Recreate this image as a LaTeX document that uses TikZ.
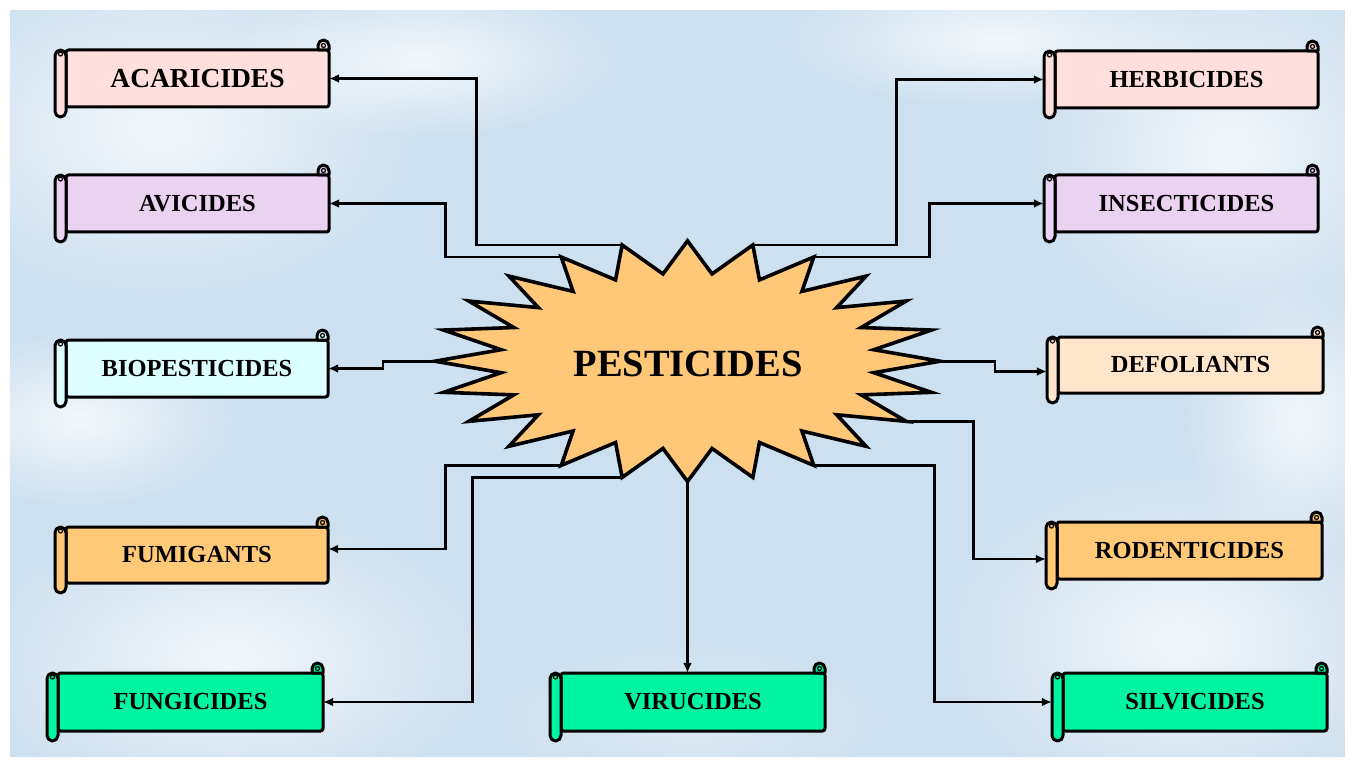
\documentclass[tikz,border=0pt]{standalone}
\usepackage{fontspec}
\setmainfont{Liberation Serif}
\usetikzlibrary{arrows.meta,fadings}
\definecolor{sky}{HTML}{CDE0EF}
\definecolor{cpink}{HTML}{FFDEDE}
\definecolor{clav}{HTML}{EAD2F1}
\definecolor{ccyan}{HTML}{DDFFFF}
\definecolor{cpeach}{HTML}{FFE5C9}
\definecolor{corange}{HTML}{FFC978}
\definecolor{cgreen}{HTML}{00F5A3}
\definecolor{starfill}{HTML}{FFC878}
\tikzfading[name=cloudfade, inner color=transparent!0, outer color=transparent!100]
\tikzset{
  scrollline/.style={line width=3pt, draw=black, line join=round},
  lbl/.style={inner sep=0pt, text=black},
  conn/.style={line width=2.8pt, draw=black, -{Latex[length=10pt,width=9pt]}},
  cloud/.style={white, path fading=cloudfade, opacity=0.75},
}
\newcommand{\scrollbox}[8]{%
  \filldraw[scrollline, fill=#6, rounded corners=2.5pt] (#2+11,#3) rectangle (#4,#5);
  \filldraw[scrollline, fill=#6] (#4-11,#3) -- (#4-11,#3-4.5) arc[start angle=180, end angle=0, radius=5.5pt] -- (#4,#3) -- cycle;
  \draw[line width=1.2pt] (#4-5.5,#3-4.5) circle[radius=2pt];
  \filldraw[scrollline, fill=#6, rounded corners=5.5pt] (#2,#3) rectangle (#2+11,#5+10);
  \draw[line width=1.2pt] (#2+5.5,#3+4) circle[radius=2pt];
  \node[lbl, font=\fontsize{#7}{#7}\selectfont\bfseries, minimum width={(#4-#2)*1pt}, minimum height={(#5-#3)*1pt}] (#1) at ({(#2+#4)/2},{(#3+#5)/2}) {\hspace*{11pt}#8};
}
\begin{document}
\begin{tikzpicture}[x=1pt,y=-1pt]
\useasboundingbox (0,0) rectangle (1352,762);
\fill[white] (0,0) rectangle (1352,762);
\fill[sky] (10,10) rectangle (1345,757);
\begin{scope}
\clip (10,10) rectangle (1345,757);
\fill[cloud] (160,130) ellipse (260 and 170);
\fill[cloud] (420,60) ellipse (200 and 80);
\fill[cloud] (80,420) ellipse (160 and 90);
\fill[cloud] (230,660) ellipse (260 and 150);
\fill[cloud] (1230,150) ellipse (200 and 190);
\fill[cloud] (1000,40) ellipse (220 and 70);
\fill[cloud] (1180,640) ellipse (240 and 170);
\fill[cloud] (1300,420) ellipse (120 and 140);
\fill[cloud, opacity=0.35] (690,720) ellipse (200 and 80);
\end{scope}
% boxes
\scrollbox{acar}{55}{50}{329}{107}{cpink}{27.5}{ACARICIDES}
\scrollbox{avic}{55}{175}{329}{232}{clav}{24.5}{AVICIDES}
\scrollbox{biop}{55}{340}{328}{397}{ccyan}{24.5}{BIOPESTICIDES}
\scrollbox{fumi}{55}{527}{328}{583}{corange}{24.5}{FUMIGANTS}
\scrollbox{fung}{47}{673}{323}{731}{cgreen}{24.5}{FUNGICIDES}
\scrollbox{viru}{550}{673}{825}{731}{cgreen}{24.5}{VIRUCIDES}
\scrollbox{herb}{1044}{51}{1318}{108}{cpink}{24.5}{HERBICIDES}
\scrollbox{inse}{1044}{175}{1318}{232}{clav}{24.5}{INSECTICIDES}
\scrollbox{defo}{1047}{337}{1323}{393}{cpeach}{24.5}{DEFOLIANTS}
\scrollbox{rode}{1046}{522}{1322}{579}{corange}{24.5}{RODENTICIDES}
\scrollbox{silv}{1052}{673}{1327}{731}{cgreen}{24.5}{SILVICIDES}
% star tip coordinates
\foreach \t in {0,60,75,105,120,180,240,255,270,300,330}
  \coordinate (s\t) at ({687.5+252.5*cos(\t)},{361.2-120.3*sin(\t)});
% connectors
\draw[conn] (s105) -- ++(-146,0) |- (acar.east);
\draw[conn] (s120) -- ++(-116,0) |- (avic.east);
\draw[conn] (s180) -- ++(-52,0) |- (biop.east);
\draw[conn] (s240) -- ++(-116,0) |- ([yshift=6pt]fumi.east);
\draw[conn] (s255) -- ++(-150,0) |- (fung.east);
\draw[conn] (s270) -- (viru.north);
\draw[conn] (s75) -- ++(144,0) |- (herb.west);
\draw[conn] (s60) -- ++(116,0) |- (inse.west);
\draw[conn] (s0) -- ++(55,0) |- ([yshift=-6.5pt]defo.west);
\draw[conn] (s330) -- ++(67,0) |- ([yshift=-8.5pt]rode.west);
\draw[conn] (s300) -- ++(121,0) |- (silv.west);
% star
\filldraw[line width=3.6pt, fill=starfill, draw=black, line join=miter] (s0)
  \foreach \k [evaluate=\k as \ra using {mod(\k,2)==0 ? 252.5 : 188},
               evaluate=\k as \rb using {mod(\k,2)==0 ? 120.3 : 88}] in {1,...,47}
  { -- ({687.5+\ra*cos(\k*7.5)},{361.2-\rb*sin(\k*7.5)}) } -- cycle;
\node[lbl, font=\fontsize{38.5}{40}\selectfont\bfseries] (pest) at (688,363.5) {PESTICIDES};
\end{tikzpicture}
\end{document}
